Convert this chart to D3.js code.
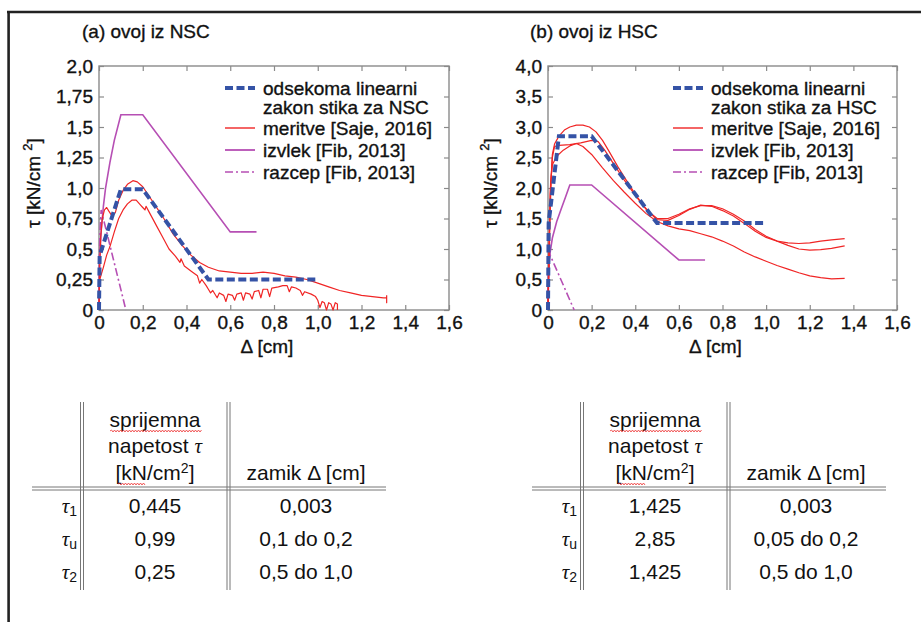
<!DOCTYPE html>
<html><head><meta charset="utf-8">
<script src="https://cdn.jsdelivr.net/npm/d3@7"></script>
<style>
body{margin:0;background:#fff;}
svg text{font-family:"Liberation Sans",Arial,sans-serif;fill:#111;}
.chart text{stroke:#111;stroke-width:0.35px;}
</style></head><body>
<svg id="c" width="921" height="622"></svg>
<script>
// ---------- data ----------
const xTicks = [0,0.2,0.4,0.6,0.8,1.0,1.2,1.4,1.6];
const xTickLabels = ["0","0,2","0,4","0,6","0,8","1,0","1,2","1,4","1,6"];
const yTicksA = [0,0.25,0.5,0.75,1.0,1.25,1.5,1.75,2.0];
const yTickLabelsA = ["0","0,25","0,5","0,75","1,0","1,25","1,5","1,75","2,0"];
const yTicksB = [0,0.5,1.0,1.5,2.0,2.5,3.0,3.5,4.0];
const yTickLabelsB = ["0","0,5","1,0","1,5","2,0","2,5","3,0","3,5","4,0"];

const panelTitles = ["(a) ovoj iz NSC","(b) ovoj iz HSC"];
const legendLabelsA = [["odsekoma linearni","zakon stika za NSC"],["meritve [Saje, 2016]"],["izvlek [Fib, 2013]"],["razcep [Fib, 2013]"]];
const legendLabelsB = [["odsekoma linearni","zakon stika za HSC"],["meritve [Saje, 2016]"],["izvlek [Fib, 2013]"],["razcep [Fib, 2013]"]];

// panel (a) NSC
const modelA = [[0,0],[0.003,0.445],[0.1,0.99],[0.2,0.99],[0.5,0.25],[1.0,0.25]];
const izvlekA = [[0,0],[0.002,0.35],[0.005,0.5],[0.01,0.65],[0.02,0.85],[0.03,1.0],[0.05,1.21],[0.07,1.39],[0.1,1.6],[0.2,1.6],[0.6,0.64],[0.72,0.64]];
const razcepA = [[0,0],[0.002,0.45],[0.005,0.66],[0.01,0.82],[0.123,0]];
const meritveA1 = [[0,0],[0.003,0.35],[0.008,0.6],[0.015,0.75],[0.025,0.82],[0.035,0.84],[0.045,0.81],[0.06,0.77],[0.075,0.8],[0.09,0.9],[0.11,0.98],[0.13,1.03],[0.155,1.06],[0.175,1.05],[0.2,1.01],[0.23,0.93],[0.26,0.85],[0.3,0.74],[0.34,0.62],[0.38,0.53],[0.42,0.45],[0.46,0.39],[0.5,0.35],[0.55,0.32],[0.6,0.31],[0.65,0.3],[0.7,0.3],[0.75,0.31],[0.8,0.3],[0.85,0.28],[0.9,0.27],[0.95,0.25],[1.0,0.22],[1.05,0.19],[1.1,0.16],[1.15,0.14],[1.2,0.12],[1.25,0.11],[1.3,0.1],[1.315,0.1],[1.315,0.06],[1.315,0.12]];
const meritveA2 = [[0,0],[0.002,0.2],[0.005,0.26],[0.02,0.35],[0.035,0.45],[0.05,0.52],[0.07,0.64],[0.09,0.75],[0.11,0.82],[0.13,0.87],[0.15,0.9],[0.17,0.9],[0.19,0.86],[0.2,0.84],[0.21,0.82],[0.215,0.85],[0.23,0.8],[0.26,0.7],[0.29,0.6],[0.32,0.5],[0.35,0.44],[0.37,0.39],[0.375,0.42],[0.39,0.36],[0.42,0.32],[0.45,0.28],[0.46,0.22],[0.47,0.25],[0.49,0.2],[0.5,0.17],[0.51,0.14],[0.52,0.16],[0.54,0.1],[0.55,0.14],[0.57,0.12],[0.58,0.07],[0.59,0.13],[0.61,0.12],[0.62,0.08],[0.63,0.13],[0.65,0.14],[0.66,0.08],[0.67,0.14],[0.69,0.13],[0.7,0.09],[0.71,0.15],[0.73,0.16],[0.74,0.1],[0.75,0.17],[0.77,0.17],[0.78,0.11],[0.79,0.18],[0.82,0.19],[0.84,0.2],[0.86,0.2],[0.87,0.15],[0.88,0.19],[0.9,0.18],[0.92,0.16],[0.93,0.12],[0.94,0.15],[0.97,0.13],[0.99,0.11],[1.0,0.08],[1.01,0.02],[1.02,0.07],[1.03,0.06],[1.04,0.0],[1.05,0.06],[1.06,0.05],[1.07,0.0],[1.08,0.06],[1.09,0.05],[1.09,0.0]];

// panel (b) HSC
const modelB = [[0,0],[0.003,1.425],[0.05,2.85],[0.2,2.85],[0.5,1.425],[1.0,1.425]];
const izvlekB = [[0,0],[0.002,0.55],[0.005,0.75],[0.01,0.95],[0.02,1.18],[0.04,1.45],[0.06,1.65],[0.08,1.85],[0.1,2.05],[0.2,2.05],[0.6,0.82],[0.72,0.82]];
const razcepB = [[0,0],[0.002,0.55],[0.006,0.85],[0.01,0.9],[0.12,0]];
const meritveB1 = [[0,0],[0.005,0.8],[0.01,1.6],[0.015,2.2],[0.02,2.55],[0.03,2.72],[0.05,2.85],[0.075,2.95],[0.1,3.0],[0.13,3.03],[0.16,3.03],[0.19,3.0],[0.22,2.92],[0.25,2.78],[0.28,2.6],[0.32,2.35],[0.36,2.12],[0.4,1.9],[0.44,1.7],[0.48,1.55],[0.5,1.48],[0.55,1.47],[0.6,1.55],[0.65,1.65],[0.7,1.72],[0.75,1.7],[0.8,1.63],[0.85,1.54],[0.9,1.42],[0.95,1.29],[1.0,1.19],[1.05,1.13],[1.1,1.1],[1.15,1.09],[1.2,1.1],[1.25,1.13],[1.3,1.15],[1.36,1.17]];
const meritveB2 = [[0,0],[0.005,1.0],[0.01,1.9],[0.02,2.5],[0.03,2.68],[0.05,2.7],[0.1,2.71],[0.15,2.74],[0.2,2.78],[0.23,2.76],[0.26,2.62],[0.3,2.4],[0.35,2.13],[0.4,1.88],[0.45,1.65],[0.5,1.5],[0.55,1.5],[0.6,1.57],[0.65,1.66],[0.7,1.71],[0.75,1.71],[0.8,1.66],[0.85,1.57],[0.9,1.46],[0.95,1.32],[1.0,1.21],[1.05,1.13],[1.1,1.06],[1.15,1.0],[1.2,0.98],[1.25,0.99],[1.3,1.01],[1.36,1.05]];
const meritveB3 = [[0,0],[0.004,0.9],[0.008,1.6],[0.012,2.1],[0.02,2.38],[0.04,2.52],[0.07,2.62],[0.1,2.69],[0.13,2.73],[0.16,2.68],[0.2,2.55],[0.25,2.33],[0.3,2.12],[0.35,1.93],[0.4,1.75],[0.45,1.58],[0.5,1.45],[0.55,1.38],[0.6,1.33],[0.65,1.3],[0.7,1.25],[0.75,1.2],[0.8,1.13],[0.85,1.05],[0.9,0.95],[0.95,0.87],[1.0,0.8],[1.05,0.73],[1.1,0.67],[1.15,0.61],[1.2,0.56],[1.25,0.53],[1.3,0.51],[1.36,0.52]];

// tables
const rowSubs = ["1","u","2"];
const tauValuesA = ["0,445","0,99","0,25"];
const slipValuesA = ["0,003","0,1 do 0,2","0,5 do 1,0"];
const tauValuesB = ["1,425","2,85","1,425"];
const slipValuesB = ["0,003","0,05 do 0,2","0,5 do 1,0"];

// ---------- styles ----------
const BLUE = "#3553a6", RED = "#f02525", MAG = "#b64fb4", GRID = "#8a8a8a";
const svg = d3.select("#c");

// outer frame
svg.append("line").attr("x1",7).attr("x2",921).attr("y1",12).attr("y2",12).attr("stroke","#222").attr("stroke-width",2.6);
svg.append("line").attr("x1",8.6).attr("x2",8.6).attr("y1",11).attr("y2",622).attr("stroke","#222").attr("stroke-width",2.6);

function drawPanel(p){
  const g = svg.append("g").attr("class","chart");
  const x = d3.scaleLinear().domain([0,1.6]).range([p.left,p.left+p.width]);
  const y = d3.scaleLinear().domain([0,p.yMax]).range([p.top+p.height,p.top]);
  const fmtY = d => p.yLabels[p.yTicks.indexOf(d)];
  const fmtX = d => xTickLabels[xTicks.indexOf(d)];
  const styleAxis = (sel, showText) => {
    sel.select(".domain").remove();
    sel.selectAll(".tick line").attr("stroke",GRID).attr("stroke-width",1.2);
    sel.selectAll(".tick text").attr("font-size",19).attr("fill","#111").style("display", showText?null:"none");
  };
  g.append("g").attr("transform",`translate(${p.left},0)`)
    .call(d3.axisLeft(y).tickValues(p.yTicks).tickFormat(fmtY).tickSize(-5).tickPadding(6))
    .call(s=>styleAxis(s,true));
  g.append("g").attr("transform",`translate(${p.left+p.width},0)`)
    .call(d3.axisRight(y).tickValues(p.yTicks).tickSize(-5))
    .call(s=>styleAxis(s,false));
  g.append("g").attr("transform",`translate(0,${p.top+p.height})`)
    .call(d3.axisBottom(x).tickValues(xTicks).tickFormat(fmtX).tickSize(-5).tickPadding(6))
    .call(s=>styleAxis(s,true));
  g.append("g").attr("transform",`translate(0,${p.top})`)
    .call(d3.axisTop(x).tickValues(xTicks).tickSize(-5))
    .call(s=>styleAxis(s,false));
  g.append("rect").attr("x",p.left).attr("y",p.top).attr("width",p.width).attr("height",p.height)
    .attr("fill","none").attr("stroke",GRID).attr("stroke-width",1.4);

  const line = d3.line().x(d=>x(d[0])).y(d=>y(d[1]));
  g.append("path").datum(p.izvlek).attr("d",line).attr("fill","none").attr("stroke",MAG).attr("stroke-width",1.6);
  g.append("path").datum(p.razcep).attr("d",line).attr("fill","none").attr("stroke",MAG).attr("stroke-width",1.6).attr("stroke-dasharray","8,3,2,3");
  p.meritve.forEach(m=>{
    g.append("path").datum(m).attr("d",line).attr("fill","none").attr("stroke",RED).attr("stroke-width",1.2).attr("stroke-linejoin","round");
  });
  g.append("path").datum(p.model).attr("d",line).attr("fill","none").attr("stroke",BLUE).attr("stroke-width",4).attr("stroke-dasharray","8,3.5");

  // titles
  g.append("text").attr("x",p.titleX).attr("y",38).attr("font-size",19).text(p.title);
  g.append("text").attr("x",x(0.8)-7).attr("y",353).attr("font-size",19).attr("text-anchor","middle").text("Δ [cm]");
  const yt = g.append("text").attr("transform",`translate(${p.yTitleX},${183}) rotate(-90)`)
    .attr("font-size",19).attr("text-anchor","middle");
  yt.append("tspan").text("τ [kN/cm ");
  yt.append("tspan").attr("dy",-8).attr("font-size",13).text("2");
  yt.append("tspan").attr("dy",8).text("]");

  // legend
  const lx = p.legendX;
  const rows = [88,128,150,172];
  const styles = [
    {stroke:BLUE,w:4,dash:"8,3.5"},{stroke:RED,w:1.4,dash:null},
    {stroke:MAG,w:1.8,dash:null},{stroke:MAG,w:1.6,dash:"8,3,2,3"}];
  p.legend.forEach((lab,i)=>{
    const st = styles[i];
    g.append("line").attr("x1",lx).attr("x2",lx+30).attr("y1",rows[i]).attr("y2",rows[i])
      .attr("stroke",st.stroke).attr("stroke-width",st.w).attr("stroke-dasharray",st.dash);
    lab.forEach((t,j)=>{
      g.append("text").attr("x",lx+38).attr("y",rows[i]+j*19).attr("dy","0.35em").attr("font-size",19).text(t);
    });
  });
}

drawPanel({left:99,top:66,width:350,height:244,yMax:2,yTicks:yTicksA,yLabels:yTickLabelsA,
  title:panelTitles[0],titleX:82,yTitleX:40,legendX:225,legend:legendLabelsA,
  model:modelA,izvlek:izvlekA,razcep:razcepA,meritve:[meritveA1,meritveA2]});
drawPanel({left:548,top:66,width:349,height:244,yMax:4,yTicks:yTicksB,yLabels:yTickLabelsB,
  title:panelTitles[1],titleX:530,yTitleX:497,legendX:673,legend:legendLabelsB,
  model:modelB,izvlek:izvlekB,razcep:razcepB,meritve:[meritveB1,meritveB2,meritveB3]});

function wavy(g, x1, x2, yy){
  const path = d3.path();
  path.moveTo(x1,yy);
  let k=0;
  for(let xx=x1+1.5; xx<=x2; xx+=1.5){ k++; path.lineTo(xx, yy + (k%2? -1:1)); }
  g.append("path").attr("d",path.toString()).attr("fill","none").attr("stroke","#e33").attr("stroke-width",0.8);
}

function drawTable(ox, tauVals, slipVals){
  const g = svg.append("g").attr("transform",`translate(${ox},0)`);
  const c1 = 155, c2 = 306;
  const lc = "#777";
  [80.5,83.5,227,230].forEach(vx=>{
    g.append("line").attr("x1",vx).attr("x2",vx).attr("y1",402).attr("y2",590).attr("stroke",lc).attr("stroke-width",1);
  });
  [487,490].forEach(hy=>{
    g.append("line").attr("x1",32).attr("x2",386).attr("y1",hy).attr("y2",hy).attr("stroke",lc).attr("stroke-width",1);
  });
  const fs = 21;
  g.append("text").attr("x",c1).attr("y",427).attr("font-size",fs).attr("text-anchor","middle").text("sprijemna");
  wavy(g,110,202,431);
  const t2 = g.append("text").attr("x",c1).attr("y",453).attr("font-size",fs).attr("text-anchor","middle");
  t2.append("tspan").text("napetost  ");
  t2.append("tspan").style("font-family","'Liberation Serif',serif").style("font-style","italic").text("τ");
  const t3 = g.append("text").attr("x",c1).attr("y",480).attr("font-size",fs).attr("text-anchor","middle");
  t3.append("tspan").text("[kN/cm");
  t3.append("tspan").attr("dy",-7).attr("font-size",14).text("2");
  t3.append("tspan").attr("dy",7).text("]");
  wavy(g,118,145,484);
  g.append("text").attr("x",c2).attr("y",480).attr("font-size",fs).attr("text-anchor","middle").text("zamik Δ [cm]");
  const rowY = [513,546,579];
  rowSubs.forEach((s,i)=>{
    const lt = g.append("text").attr("x",77).attr("y",rowY[i]).attr("text-anchor","end").attr("font-size",fs);
    lt.append("tspan").style("font-family","'Liberation Serif',serif").style("font-style","italic").text("τ");
    lt.append("tspan").attr("dy",3).attr("font-size",14).text(s);
    g.append("text").attr("x",c1).attr("y",rowY[i]).attr("font-size",fs).attr("text-anchor","middle").text(tauVals[i]);
    g.append("text").attr("x",c2).attr("y",rowY[i]).attr("font-size",fs).attr("text-anchor","middle").text(slipVals[i]);
  });
}
drawTable(0, tauValuesA, slipValuesA);
drawTable(500, tauValuesB, slipValuesB);
</script></body></html>
